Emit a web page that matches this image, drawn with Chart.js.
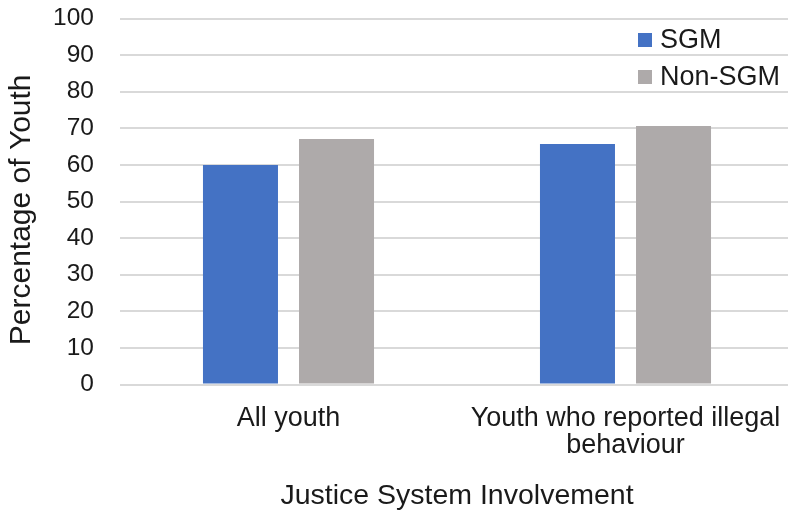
<!DOCTYPE html>
<html>
<head>
<meta charset="utf-8">
<script src="https://cdn.jsdelivr.net/npm/chart.js@4/dist/chart.umd.min.js"></script>
<style>
  html, body { margin: 0; padding: 0; background: #ffffff; overflow: hidden; }
  #wrap { width: 800px; height: 514px; }
</style>
</head>
<body>
<div id="wrap"><canvas id="c" width="800" height="514"></canvas></div>
<script>
// Categories and series values
const categories = ["All youth", ["Youth who reported illegal", "behaviour"]];
const seriesNames = ["SGM", "Non-SGM"];
const sgmValues = [60, 65.7];
const nonSgmValues = [67.1, 70.6];
const yTicks = [0, 10, 20, 30, 40, 50, 60, 70, 80, 90, 100];

const colors = ["#4472C4", "#AEAAAA"];
const FONT = "'Liberation Sans', Arial, sans-serif";
const TEXT = "#1a1a1a";

// Legend drawn over the top-right of the plot area
const overlayLegend = {
  id: "overlayLegend",
  afterDraw(chart) {
    const ctx = chart.ctx;
    const area = chart.chartArea;
    const x0 = area.left + 518;
    const y0 = area.top + 21.5;
    const rowGap = 37;
    ctx.save();
    ctx.font = "27px " + FONT;
    ctx.textBaseline = "middle";
    ctx.textAlign = "left";
    chart.data.datasets.forEach((ds, i) => {
      const cy = y0 + i * rowGap;
      ctx.fillStyle = ds.backgroundColor;
      ctx.fillRect(x0, cy - 7, 14, 14);
      ctx.fillStyle = TEXT;
      ctx.fillText(ds.label, x0 + 22, cy + 1);
    });
    ctx.restore();
  }
};

new Chart(document.getElementById("c"), {
  type: "bar",
  data: {
    labels: categories,
    datasets: [
      { label: seriesNames[0], data: sgmValues, backgroundColor: colors[0] },
      { label: seriesNames[1], data: nonSgmValues, backgroundColor: colors[1] }
    ]
  },
  options: {
    responsive: false,
    animation: false,
    devicePixelRatio: 1,
    layout: { padding: { top: 18.5, right: 6, left: 0, bottom: 0 } },
    datasets: {
      bar: { categoryPercentage: 0.57, barPercentage: 0.781 }
    },
    plugins: {
      legend: { display: false },
      tooltip: { enabled: false }
    },
    scales: {
      x: {
        grid: { display: false, drawTicks: false },
        border: { display: false },
        ticks: {
          color: TEXT,
          font: { family: FONT, size: 27, lineHeight: 1.0 },
          padding: 21,
          maxRotation: 0,
          autoSkip: false
        },
        title: {
          display: true,
          text: "Justice System Involvement",
          color: TEXT,
          font: { family: FONT, size: 28.5 },
          padding: { top: 0, bottom: 1 }
        },
        afterFit(scale) {
          scale.height = 129.5;
          scale.paddingLeft = 0;
          scale.paddingRight = 0;
        }
      },
      y: {
        min: 0,
        max: 100,
        afterBuildTicks(scale) { scale.ticks = yTicks.map(v => ({ value: v })); },
        grid: { color: "#d9d9d9", lineWidth: 2, drawTicks: false },
        border: { display: false },
        ticks: {
          color: TEXT,
          font: { family: FONT, size: 24.5 },
          padding: 26
        },
        title: {
          display: true,
          text: "Percentage of Youth  ",
          color: TEXT,
          font: { family: FONT, size: 30 },
          padding: { top: 4, bottom: 0 }
        },
        afterFit(scale) {
          scale.width = 120;
          scale.paddingTop = 0;
          scale.paddingBottom = 0;
        }
      }
    }
  },
  plugins: [overlayLegend]
});
</script>
</body>
</html>
